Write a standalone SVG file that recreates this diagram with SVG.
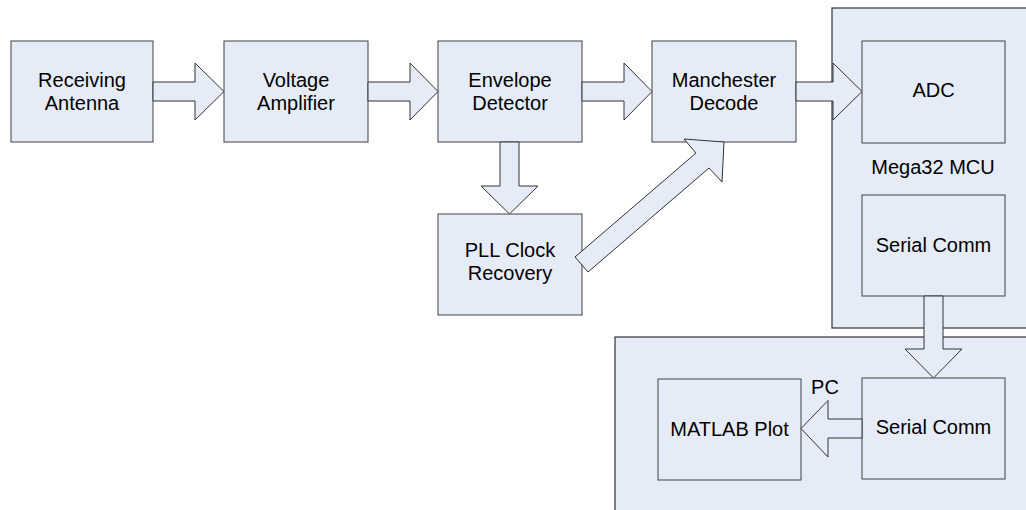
<svg xmlns="http://www.w3.org/2000/svg" width="1026" height="510" viewBox="0 0 1026 510">
<style>
.box{fill:#E6ECF7;stroke:#404040;stroke-width:1}
.cont{fill:#E6ECF7;stroke:#333333;stroke-width:1.2}
.arr{fill:#E6ECF7;stroke:#333333;stroke-width:1;stroke-linejoin:miter}
text{font-family:"Liberation Sans",Arial,sans-serif;font-size:20px;fill:#000;text-anchor:middle}
</style>
<rect width="1026" height="510" fill="#FFFFFF"/>
<g id="mcu">
<rect class="cont" x="832" y="8" width="220" height="320"/>
<text x="933" y="174">Mega32 MCU</text>
</g>
<g id="pc">
<rect class="cont" x="615" y="337" width="430" height="200"/>
<text x="825" y="394">PC</text>
</g>
<g id="antenna"><rect class="box" x="11" y="41" width="142" height="101"/><text x="82" y="87">Receiving</text><text x="82" y="110">Antenna</text></g>
<g id="amplifier"><rect class="box" x="224" y="41" width="144" height="101"/><text x="296" y="87">Voltage</text><text x="296" y="110">Amplifier</text></g>
<g id="envelope"><rect class="box" x="438" y="41" width="144" height="101"/><text x="510" y="87">Envelope</text><text x="510" y="110">Detector</text></g>
<g id="manchester"><rect class="box" x="652" y="41" width="144" height="101"/><text x="724" y="87">Manchester</text><text x="724" y="110">Decode</text></g>
<g id="adc"><rect class="box" x="862" y="41" width="143" height="102"/><text x="933.5" y="97">ADC</text></g>
<g id="serial-mcu"><rect class="box" x="862" y="195" width="143" height="101"/><text x="933.5" y="252">Serial Comm</text></g>
<g id="pll"><rect class="box" x="438" y="214" width="144" height="101"/><text x="510" y="257">PLL Clock</text><text x="510" y="280">Recovery</text></g>
<g id="serial-pc"><rect class="box" x="862" y="378" width="143" height="101"/><text x="933.5" y="434">Serial Comm</text></g>
<g id="matlab"><rect class="box" x="658" y="379" width="143" height="101"/><text x="729.5" y="436">MATLAB Plot</text></g>
<g id="connectors">
<polygon class="arr" points="153,82 195,82 195,63 224,91.5 195,120 195,101 153,101"/>
<polygon class="arr" points="368,82 410,82 410,63 438,91.5 410,120 410,101 368,101"/>
<polygon class="arr" points="582,82 624,82 624,63 652,91.5 624,120 624,101 582,101"/>
<polygon class="arr" points="796,82 833,82 833,63 862,91.5 833,120 833,101 796,101"/>
<polygon class="arr" points="500,142 519,142 519,186 538,186 509.5,214 481,186 500,186"/>
<polygon class="arr" points="575,257 696,153 684,139 724,142 722,182 709,168 588,272"/>
<polygon class="arr" points="924,296 943,296 943,349 962,349 933.5,378 905,349 924,349"/>
<polygon class="arr" points="862,419 828,419 828,400.5 801,428.5 828,457 828,438 862,438"/>
</g>
</svg>
